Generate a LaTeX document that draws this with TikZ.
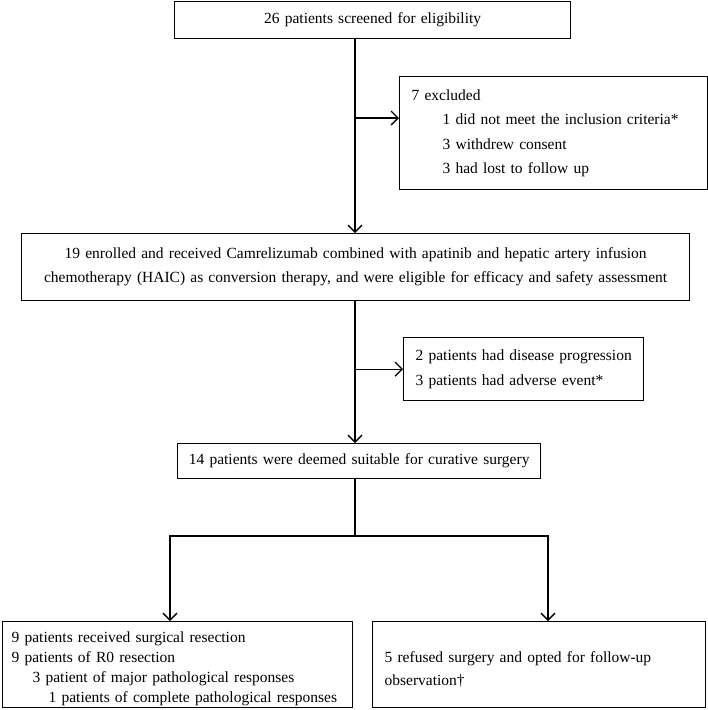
\documentclass[tikz,border=0pt]{standalone}
\usepackage{fontspec}
\setmainfont{Liberation Serif}
\usetikzlibrary{arrows.meta}
\begin{document}
\begin{tikzpicture}[x=1pt,y=-1pt,line width=1.3pt,
  box/.style={draw,line width=1.3pt,anchor=north west,inner ysep=0pt,
    font=\fontsize{15.5}{24}\selectfont},
  arr/.style={-{Straight Barb[length=7pt,width=14pt,line width=1.3pt]}}]
\useasboundingbox (0,0) rectangle (708,710);
\node[box,minimum width=396pt,minimum height=37pt,text width=376pt,inner xsep=10pt,align=center] (screen) at (174,1) {\mbox{26 patients screened for eligibility}};
\node[box,minimum width=308pt,minimum height=113pt,text width=284pt,inner xsep=12pt,align=left,font=\fontsize{15.5}{24.5}\selectfont] (excl) at (399,76)
  {\mbox{7 excluded}\\\mbox{\hspace*{31pt}1 did not meet the inclusion criteria*}\\\mbox{\hspace*{31pt}3 withdrew consent}\\\mbox{\hspace*{31pt}3 had lost to follow up}};
\node[box,minimum width=668pt,minimum height=67pt,text width=648pt,inner xsep=10pt,align=center] (enrol) at (21,233)
  {\mbox{19 enrolled and received Camrelizumab combined with apatinib and hepatic artery infusion}\\\mbox{chemotherapy (HAIC) as conversion therapy, and were eligible for efficacy and safety assessment}};
\node[box,minimum width=240pt,minimum height=63pt,text width=216pt,inner xsep=12pt,align=left,font=\fontsize{15.5}{25}\selectfont] (adv) at (403,337)
  {\mbox{2 patients had disease progression}\\\mbox{3 patients had adverse event*}};
\node[box,minimum width=363pt,minimum height=35pt,text width=343pt,inner xsep=10pt,align=center] (suit) at (177,443)
  {\mbox{14 patients were deemed suitable for curative surgery}};
\node[box,minimum width=350pt,minimum height=86pt,text width=332pt,inner xsep=9pt,align=left,font=\fontsize{15.5}{20}\selectfont] (resect) at (2,621)
  {\mbox{\rule{0pt}{19pt}9 patients received surgical resection}\\\mbox{9 patients of R0 resection}\\\mbox{\hspace*{21pt}3 patient of major pathological responses}\\\mbox{\hspace*{37pt}1 patients of complete pathological responses}};
\node[box,minimum width=333pt,minimum height=86pt,text width=309pt,inner xsep=12pt,align=left,font=\fontsize{15.5}{23}\selectfont] (refuse) at (372,621)
  {\mbox{\rule{0pt}{21pt}5 refused surgery and opted for follow-up}\\\mbox{observation\textdagger}};
\coordinate (spine) at (355,0);
\coordinate (j1) at (355,118);
\coordinate (split) at (355,536);
\coordinate (la) at (170,536);
\coordinate (ra) at (548,536);
\draw[arr] (screen.south -| spine) -- (enrol.north -| spine);
\draw[arr] (j1) -- (j1 -| excl.west);
\draw[arr] (enrol.south -| spine) -- (suit.north -| spine);
\draw[arr] (adv.west -| spine) -- (adv.west);
\draw (suit.south -| spine) -- (split);
\draw[arr] (split) -- (la) -- (la |- resect.north);
\draw[arr] (split) -- (ra) -- (ra |- refuse.north);
\end{tikzpicture}
\end{document}
